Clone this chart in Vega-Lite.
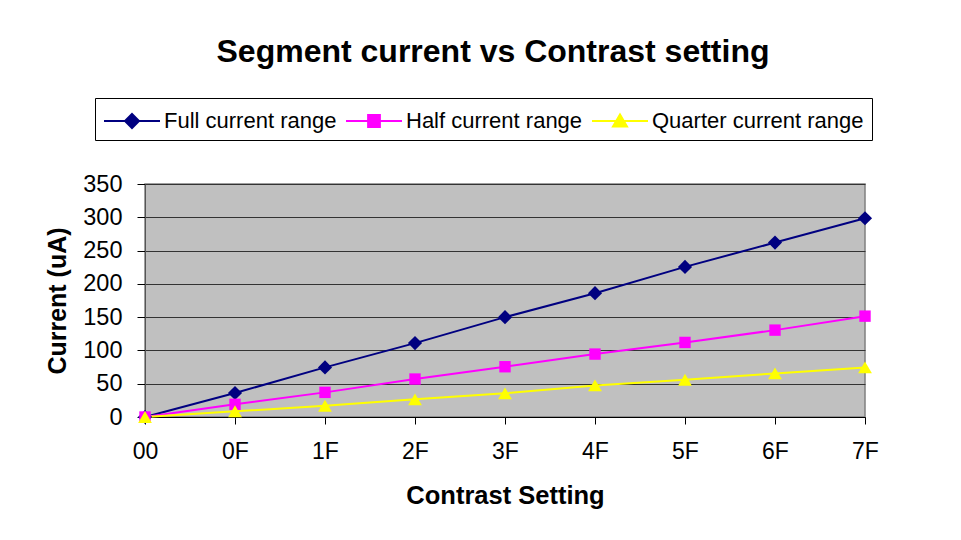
{
  "$schema": "https://vega.github.io/schema/vega-lite/v6.json",
  "width": 720,
  "height": 233,
  "autosize": {"type": "none"},
  "padding": {"left": 145, "top": 184, "right": 96, "bottom": 123},
  "background": "white",
  "config": {
    "font": "Liberation Sans",
    "view": {"fill": "#C0C0C0", "stroke": "#808080", "strokeWidth": 1.5}
  },
  "title": {
    "text": "Segment current vs Contrast setting",
    "fontSize": 32,
    "fontWeight": "bold",
    "font": "Liberation Sans",
    "color": "black",
    "anchor": "middle",
    "frame": "group",
    "dx": -12,
    "baseline": "alphabetic",
    "offset": 4
  },
  "data": {
    "values": [
      {"setting": "00", "series": "Full current range", "current": 0},
      {"setting": "0F", "series": "Full current range", "current": 36},
      {"setting": "1F", "series": "Full current range", "current": 74.5},
      {"setting": "2F", "series": "Full current range", "current": 111},
      {"setting": "3F", "series": "Full current range", "current": 150},
      {"setting": "4F", "series": "Full current range", "current": 186},
      {"setting": "5F", "series": "Full current range", "current": 225.5},
      {"setting": "6F", "series": "Full current range", "current": 262},
      {"setting": "7F", "series": "Full current range", "current": 298.5},
      {"setting": "00", "series": "Half current range", "current": 0},
      {"setting": "0F", "series": "Half current range", "current": 19},
      {"setting": "1F", "series": "Half current range", "current": 37},
      {"setting": "2F", "series": "Half current range", "current": 57},
      {"setting": "3F", "series": "Half current range", "current": 75.5},
      {"setting": "4F", "series": "Half current range", "current": 94.5},
      {"setting": "5F", "series": "Half current range", "current": 112},
      {"setting": "6F", "series": "Half current range", "current": 130.5},
      {"setting": "7F", "series": "Half current range", "current": 151.5},
      {"setting": "00", "series": "Quarter current range", "current": 0},
      {"setting": "0F", "series": "Quarter current range", "current": 8.5},
      {"setting": "1F", "series": "Quarter current range", "current": 17},
      {"setting": "2F", "series": "Quarter current range", "current": 26.5},
      {"setting": "3F", "series": "Quarter current range", "current": 35.5},
      {"setting": "4F", "series": "Quarter current range", "current": 47.5},
      {"setting": "5F", "series": "Quarter current range", "current": 56},
      {"setting": "6F", "series": "Quarter current range", "current": 65.5},
      {"setting": "7F", "series": "Quarter current range", "current": 74.5}
    ]
  },
  "encoding": {
    "x": {
      "field": "setting",
      "type": "ordinal",
      "sort": ["00", "0F", "1F", "2F", "3F", "4F", "5F", "6F", "7F"],
      "scale": {"type": "point", "padding": 0},
      "axis": {
        "title": "Contrast Setting",
        "labelAngle": 0,
        "labelFontSize": 23,
        "labelColor": "black",
        "labelPadding": 16,
        "tickSize": 7,
        "tickColor": "black",
        "domainColor": "black",
        "titleFontSize": 25.5,
        "titleFontWeight": "bold",
        "titleColor": "black",
        "titlePadding": 20,
        "grid": false
      }
    },
    "y": {
      "field": "current",
      "type": "quantitative",
      "scale": {"domain": [0, 350], "nice": false},
      "axis": {
        "title": "Current (uA)",
        "values": [0, 50, 100, 150, 200, 250, 300, 350],
        "labelFontSize": 23.5,
        "labelColor": "black",
        "labelPadding": 15,
        "tickSize": 8,
        "tickColor": "black",
        "domainColor": "#555555",
        "gridColor": "#333333",
        "gridWidth": 1,
        "titleFontSize": 25,
        "titleFontWeight": "bold",
        "titleColor": "black",
        "titlePadding": 12
      }
    },
    "color": {
      "field": "series",
      "type": "nominal",
      "scale": {
        "domain": ["Full current range", "Half current range", "Quarter current range"],
        "range": ["#000080", "#FF00FF", "#FFFF00"]
      },
      "legend": {
        "title": null,
        "orient": "none",
        "direction": "horizontal",
        "columns": 3,
        "legendX": -50,
        "legendY": -86,
        "padding": 8,
        "strokeColor": "black",
        "fillColor": "white",
        "labelFontSize": 22,
        "labelLimit": 0,
        "labelColor": "black",
        "labelOffset": 31,
        "columnPadding": 5,
        "symbolSize": 784,
        "symbolStrokeWidth": 2,
        "encode": {
          "symbols": {
            "update": {
              "shape": {"signal": "datum.value == 'Full current range' ? 'M-1,0L3,0M1,-0.5L1.5,0L1,0.5L0.5,0Z' : datum.value == 'Half current range' ? 'M-1,0L3,0M0.58,-0.42L1.42,-0.42L1.42,0.42L0.58,0.42Z' : 'M-1,0L3,0M1,-0.46L1.5,0.4L0.5,0.4Z'"},
              "fill": {"scale": "color", "field": "value"},
              "stroke": {"scale": "color", "field": "value"},
              "strokeWidth": {"value": 2}
            }
          }
        }
      }
    }
  },
  "layer": [
    {"mark": {"type": "line", "strokeWidth": 2}},
    {
      "transform": [{"filter": "datum.series == 'Full current range'"}],
      "mark": {"type": "point", "filled": true, "opacity": 1, "shape": "diamond", "size": 200}
    },
    {
      "transform": [{"filter": "datum.series == 'Half current range'"}],
      "mark": {"type": "point", "filled": true, "opacity": 1, "shape": "square", "size": 130}
    },
    {
      "transform": [{"filter": "datum.series == 'Quarter current range'"}],
      "mark": {"type": "point", "filled": true, "opacity": 1, "shape": "triangle-up", "size": 190}
    }
  ]
}
